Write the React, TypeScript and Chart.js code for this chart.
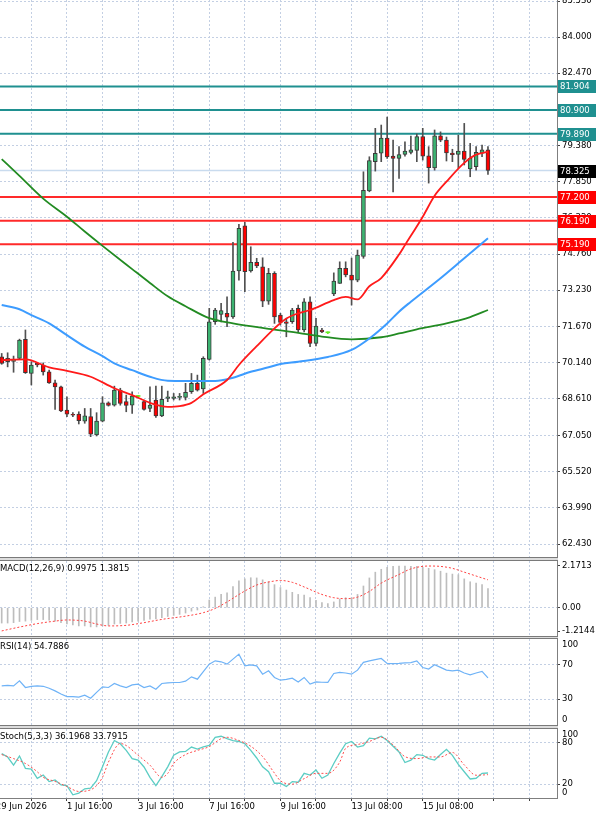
import React, { useEffect, useRef } from 'react';
import { Chart, registerables } from 'chart.js';

Chart.register(...registerables);

// ---------- price candles (index 0..82, H4 bars) ----------
const openPrices = [
  70.40, 70.19, 70.20, 70.33, 71.14, 69.69, 70.12, 70.05, 69.76, 69.29,
  69.12, 68.13, 67.95, 67.96, 67.66, 67.85, 67.07, 67.66, 68.44, 68.34,
  68.98, 68.49, 68.34, 68.71, 68.49, 68.20, 68.56, 67.88, 68.63, 68.63,
  68.67, 68.67, 68.91, 69.27, 69.03, 70.29, 71.89, 72.20, 72.25, 72.10,
  74.05, 75.97, 74.05, 74.42, 74.23, 72.77, 73.95, 72.17, 71.89, 71.89,
  72.46, 71.54, 72.74, 70.97, 71.54, 71.42, 73.07, 73.52, 74.16, 73.88,
  73.66, 74.67, 77.46, 78.70, 79.06, 79.71, 78.94, 78.84, 79.01, 79.09,
  79.18, 79.77, 78.95, 78.43, 79.80, 79.62, 79.07, 79.01, 79.15, 78.39,
  78.49, 79.06, 79.20,
];
const highPrices = [
  70.54, 70.57, 70.43, 71.15, 71.54, 70.19, 70.16, 70.14, 69.83, 69.41,
  69.15, 68.70, 68.02, 68.06, 68.20, 68.20, 68.02, 68.70, 68.48, 69.15,
  69.06, 68.77, 68.91, 68.76, 68.56, 69.12, 69.15, 69.15, 68.94, 68.84,
  68.84, 69.27, 69.69, 69.62, 70.40, 72.46, 72.46, 72.67, 72.95, 75.27,
  76.03, 76.12, 75.08, 74.59, 74.61, 74.16, 74.02, 72.25, 72.03, 72.46,
  72.60, 72.88, 72.95, 72.03, 71.61, 71.46, 73.97, 74.44, 74.44, 74.60,
  74.94, 78.27, 78.91, 80.12, 80.26, 80.60, 79.62, 79.34, 79.54, 79.79,
  79.88, 80.12, 79.34, 80.05, 79.97, 79.75, 79.23, 79.83, 80.33, 79.48,
  79.34, 79.41, 79.34,
];
const lowPrices = [
  70.08, 69.97, 69.74, 70.28, 69.69, 69.20, 69.97, 69.62, 69.27, 68.16,
  68.06, 67.85, 67.85, 67.54, 67.57, 67.00, 67.03, 67.63, 68.30, 68.30,
  68.34, 68.06, 67.99, 68.66, 68.13, 68.06, 67.82, 67.85, 68.49, 68.56,
  68.56, 68.56, 68.84, 68.94, 68.84, 70.26, 71.78, 71.88, 71.68, 72.03,
  73.66, 73.17, 74.00, 74.19, 72.53, 72.63, 71.82, 71.75, 71.25, 71.82,
  71.46, 71.46, 70.83, 70.86, 71.42, 71.38, 73.00, 73.52, 73.80, 72.60,
  73.59, 74.59, 77.42, 78.30, 78.70, 78.84, 77.41, 77.99, 78.94, 79.03,
  78.70, 78.77, 77.79, 78.34, 79.55, 78.73, 78.70, 78.42, 78.56, 78.06,
  78.34, 78.91, 78.16,
];
const closePrices = [
  70.12, 70.33, 70.29, 71.11, 69.72, 70.05, 70.05, 69.76, 69.29, 69.12,
  68.10, 67.96, 67.91, 67.68, 67.89, 67.11, 67.66, 68.44, 68.33, 68.98,
  68.42, 68.33, 68.73, 68.71, 68.16, 68.34, 67.88, 68.59, 68.70, 68.70,
  68.70, 68.89, 69.27, 68.98, 70.33, 71.89, 72.39, 72.36, 72.08, 74.05,
  75.86, 74.02, 74.42, 74.26, 72.77, 73.95, 72.10, 71.86, 71.82, 72.39,
  71.54, 72.74, 70.97, 71.71, 71.46, 71.42, 73.62, 74.16, 73.88, 73.66,
  74.73, 77.48, 78.75, 79.06, 79.71, 78.90, 78.84, 79.00, 79.15, 79.20,
  79.77, 78.94, 78.45, 79.80, 79.62, 79.07, 79.00, 79.15, 78.80, 78.84,
  79.10, 79.20, 78.325,
];

// moving averages: [bar index, price]
const maFast: [number, number][] = [
  [0, 70.26], [4, 70.29], [8, 69.95], [11, 69.80], [15, 69.55], [19, 69.06], [22, 68.77],
  [25, 68.44], [28, 68.27], [30, 68.30], [32, 68.44], [34, 68.80], [38, 69.41], [40, 70.05],
  [43, 70.85], [46, 71.61], [48, 72.03], [50, 72.25], [52, 72.39], [56, 72.81], [58, 72.95],
  [60, 72.84], [62, 73.40], [64, 73.75], [67, 74.75], [68, 75.15], [71, 76.36], [73, 77.25],
  [75, 77.85], [78, 78.65], [80, 79.00], [82, 79.12],
];
const maMid: [number, number][] = [
  [0, 72.60], [3, 72.42], [5, 72.17], [8, 71.82], [11, 71.32], [14, 70.83], [17, 70.43],
  [19, 70.12], [22, 69.83], [25, 69.55], [28, 69.38], [31, 69.37], [34, 69.37], [36, 69.37],
  [39, 69.51], [42, 69.76], [45, 69.95], [47, 70.09], [50, 70.19], [55, 70.39], [59, 70.69],
  [62, 71.18], [65, 71.82], [67, 72.32], [69, 72.74], [74, 73.74], [78, 74.59], [82, 75.44],
];
const maSlow: [number, number][] = [
  [0, 78.81], [3, 78.10], [7, 77.13], [11, 76.36], [14, 75.73], [17, 75.12], [22, 74.13],
  [25, 73.54], [28, 72.97], [31, 72.55], [35, 72.04], [39, 71.82], [45, 71.59], [50, 71.42],
  [54, 71.26], [59, 71.14], [64, 71.23], [67, 71.39], [70, 71.57], [75, 71.82], [79, 72.09],
  [82, 72.39],
];

const resistanceLevels = [81.904, 80.9, 79.89];
const supportLevels = [77.2, 76.19, 75.19];
const lastPrice = 78.325;

const priceTicks = [
  85.53, 84.0, 82.47, 80.94, 79.38, 77.85, 76.32, 74.76, 73.23, 71.67, 70.14, 68.61, 67.05,
  65.52, 63.99, 62.43,
];

// ---------- MACD ----------
const macdTitle = 'MACD(12,26,9) 0.9975 1.3815';
const macdHist = [
  -0.80, -0.80, -0.78, -0.72, -0.70, -0.66, -0.62, -0.62, -0.65, -0.70,
  -0.78, -0.85, -0.90, -0.95, -0.95, -1.00, -1.00, -0.95, -0.92, -0.85,
  -0.82, -0.80, -0.74, -0.70, -0.66, -0.60, -0.58, -0.52, -0.46, -0.40,
  -0.35, -0.28, -0.18, -0.12, 0.05, 0.40, 0.55, 0.70, 0.78, 1.10,
  1.40, 1.50, 1.56, 1.55, 1.45, 1.35, 1.20, 1.05, 0.92, 0.80,
  0.69, 0.66, 0.52, 0.38, 0.26, 0.21, 0.30, 0.45, 0.52, 0.52,
  0.69, 1.13, 1.55, 1.85, 2.00, 2.10, 2.15, 2.17, 2.17, 2.16,
  2.15, 2.10, 2.05, 1.98, 1.90, 1.80, 1.75, 1.72, 1.50, 1.35,
  1.28, 1.20, 1.00,
];
const macdSignal: [number, number][] = [
  [0, -1.21], [3, -1.01], [6, -0.83], [9, -0.70], [11, -0.64], [14, -0.70], [16, -0.85],
  [18, -0.95], [21, -0.92], [24, -0.78], [27, -0.61], [31, -0.44], [34, -0.26], [36, -0.04],
  [38, 0.30], [41, 0.87], [43, 1.18], [46, 1.39], [47, 1.42], [49, 1.32], [51, 1.08],
  [54, 0.69], [56, 0.52], [58, 0.47], [60, 0.55], [62, 0.85], [64, 1.28], [67, 1.73],
  [69, 2.02], [72, 2.17], [74, 2.15], [76, 2.05], [78, 1.85], [82, 1.45],
];
const macdTicks = [2.1713, 0, -1.2144];

// ---------- RSI ----------
const rsiTitle = 'RSI(14) 54.7886';
const rsiValues = [
  45.5, 46, 45.5, 51.3, 43.6, 45, 45.5, 45, 42.8, 39.7,
  36, 33.1, 33, 32.5, 34.6, 31.1, 38, 44.3, 43.6, 48.3,
  45.5, 43.6, 46.6, 47.5, 43.6, 45.5, 41.6, 48.3, 49, 49.4,
  49.4, 51, 56, 53.3, 62, 70.8, 74.6, 73.5, 70.8, 76.6,
  82.4, 68.8, 70, 68.8, 59.1, 63, 55.3, 52.1, 53, 54.5,
  50.1, 55.3, 47.5, 50.1, 49.7, 49.5, 59.9, 61.1, 60.5, 59.1,
  63.8, 72.8, 74.6, 76, 77.4, 71.6, 71.4, 71.6, 72.2, 72.5,
  74.6, 66.9, 65, 70, 67, 63.8, 63, 63.8, 60.5, 58.3,
  60.5, 62.3, 54.8,
];
const rsiLevels = [70, 30];
const rsiEdgeLabels: [string, string] = ['100', '0'];

// ---------- Stochastic ----------
const stochTitle = 'Stoch(5,3,3) 36.1968 33.7915';
const stochMain = [
  64.3, 59.4, 47.6, 60.9, 42.9, 41.9, 28.6, 33.3, 23.8, 26.2,
  19, 18, 4.7, 7.1, 13.3, 14.3, 25, 45.2, 66.7, 83.3,
  78.6, 69, 57.1, 54.8, 45, 30, 18, 30.9, 45.2, 61.9,
  66.7, 67.5, 73.8, 71, 74, 76.2, 88, 89.5, 86, 83,
  81.9, 78.6, 69, 58, 45.2, 38, 21.4, 21.4, 16.7, 23.8,
  22.9, 35.7, 33.3, 40.5, 28.6, 33.3, 50, 65, 78.6, 81.9,
  73.8, 76, 86.7, 85.7, 89.5, 83.3, 75, 66.7, 51.4, 54.8,
  62.9, 61.9, 57.1, 55, 63, 70.5, 61.9, 48.6, 38, 27.6,
  28.6, 35.7, 36.2,
];
const stochSignal: [number, number][] = [
  [0, 62.9], [2, 57.1], [4, 50], [6, 38], [7, 30], [9, 24], [11, 16.7], [13, 9.5], [15, 11.9],
  [17, 30], [18, 52], [20, 79], [21, 76], [23, 61.9], [25, 47.6], [27, 30], [28, 35.7],
  [29, 50], [31, 62.9], [33, 69], [35, 74.5], [37, 86], [38, 88], [40, 83.3], [42, 75],
  [44, 60], [46, 36], [47, 25], [49, 20], [51, 28], [53, 35.7], [55, 35.7], [57, 52],
  [58, 72], [60, 77.5], [62, 82], [64, 88], [66, 77], [68, 60], [70, 57.1], [72, 59.5],
  [74, 59.5], [76, 66], [78, 48], [80, 33], [82, 33.8],
];
const stochLevels = [80, 20];
const stochEdgeLabels: [string, string] = ['100', '0'];

// ---------- time axis ----------
const timeTickIdx = [-1, 11, 23, 35, 47, 59, 71];
const timeTickLabels = ['29 Jun 2026', '1 Jul 16:00', '3 Jul 16:00', '7 Jul 16:00', '9 Jul 16:00', '13 Jul 08:00', '15 Jul 08:00'];

// ---------- layout / style ----------
const W = 600;
const H = 817;
const PLOT_RIGHT = 557;
const AXIS_W = W - PLOT_RIGHT;
const X_MIN = -0.287;
const X_MAX = 93.64;
const MAIN_MIN = 61.88;
const MAIN_MAX = 85.58;
const MACD_MIN = -1.4748;
const MACD_MAX = 2.4317;
const FONT_FAMILY = '"DejaVu Sans", sans-serif';
const FONT_SIZE = 8.5;
const FONT = `${FONT_SIZE}px ${FONT_FAMILY}`;
const GRID = '#c3cfe3';
const AXIS_LINE = '#7f7f7f';
const BULL = '#3cb371';
const BEAR = '#ff0000';
const DOJI = '#66ee22';
const WICK = '#505050';
const TEAL = '#1f9090';
const RED_LINE = '#ff2a2a';

const gridIdx: number[] = [];
for (let v = timeTickIdx[0]; v <= X_MAX; v += 6) gridIdx.push(v);

function xAxis(withLabels: boolean): any {
  return {
    type: 'linear',
    min: X_MIN,
    max: X_MAX,
    offset: false,
    afterBuildTicks: (s: any) => {
      s.ticks = gridIdx.map((v) => ({ value: v }));
    },
    afterFit: (s: any) => {
      s.height = withLabels ? 19 : 0;
      s.paddingLeft = 0;
      s.paddingRight = 0;
    },
    grid: { color: GRID, lineWidth: 1, offset: false, drawTicks: withLabels, tickLength: 3, tickColor: '#404040' },
    border: { display: withLabels, color: AXIS_LINE, dash: [2, 2] },
    ticks: {
      display: withLabels,
      autoSkip: false,
      maxRotation: 0,
      minRotation: 0,
      align: 'start',
      padding: 1,
      color: '#000',
      font: { family: FONT_FAMILY, size: FONT_SIZE },
      callback: (v: number) => {
        const k = timeTickIdx.indexOf(v);
        return k >= 0 ? timeTickLabels[k] : '';
      },
    },
  };
}

function yAxis(min: number, max: number, ticks: number[], fmt: (v: number) => string, gridOn?: (v: number) => boolean): any {
  return {
    position: 'right',
    min,
    max,
    afterBuildTicks: (s: any) => {
      s.ticks = ticks.map((v) => ({ value: v }));
    },
    afterFit: (s: any) => {
      s.width = AXIS_W;
      s.paddingTop = 0;
      s.paddingBottom = 0;
    },
    grid: {
      color: (c: any) => (gridOn && c.tick && !gridOn(c.tick.value) ? 'rgba(0,0,0,0)' : GRID),
      drawTicks: true,
      tickLength: 3,
      tickColor: '#404040',
    },
    border: { display: true, color: AXIS_LINE, dash: [2, 2] },
    ticks: {
      autoSkip: false,
      padding: 2,
      color: '#000',
      font: { family: FONT_FAMILY, size: FONT_SIZE },
      callback: (v: number) => fmt(v),
    },
  };
}

function baseOptions(scales: any): any {
  return {
    responsive: false,
    animation: false,
    events: [],
    layout: { padding: 0 },
    plugins: { legend: { display: false }, tooltip: { enabled: false } },
    scales,
  };
}

function panelText(title: string, edge?: [string, string]): any {
  return {
    id: 'panelText',
    afterDraw(chart: any) {
      const { ctx, chartArea } = chart;
      ctx.save();
      ctx.font = FONT;
      ctx.fillStyle = '#000';
      ctx.textBaseline = 'middle';
      ctx.textAlign = 'left';
      ctx.fillText(title, 0, chartArea.top + 8);
      if (edge) {
        const x = chartArea.right + 5;
        ctx.fillText(edge[0], x, chartArea.top + 6);
        ctx.fillText(edge[1], x, chartArea.bottom - 5);
      }
      ctx.restore();
    },
  };
}

const tagPlugin: any = {
  id: 'priceTags',
  afterDraw(chart: any) {
    const { ctx, chartArea } = chart;
    const ys = chart.scales.y;
    const draw = (v: number, bg: string) => {
      const py = Math.round(ys.getPixelForValue(v));
      ctx.fillStyle = bg;
      ctx.fillRect(chartArea.right + 1, py - 6, 38, 13);
      ctx.fillStyle = '#fff';
      ctx.fillText(v.toFixed(3), chartArea.right + 3, py + 0.5);
    };
    ctx.save();
    ctx.font = FONT;
    ctx.textBaseline = 'middle';
    ctx.textAlign = 'left';
    resistanceLevels.forEach((v) => draw(v, TEAL));
    supportLevels.forEach((v) => draw(v, BEAR));
    draw(lastPrice, '#000');
    ctx.restore();
  },
};

function pairs(p: [number, number][]) {
  return p.map(([x, y]) => ({ x, y }));
}
function series(a: number[]) {
  return a.map((y, x) => ({ x, y }));
}
function hline(v: number, color: string, width: number, order: number): any {
  return {
    type: 'line',
    order,
    data: [{ x: X_MIN, y: v }, { x: X_MAX, y: v }],
    borderColor: color,
    borderWidth: width,
    pointRadius: 0,
    fill: false,
  };
}

const isDoji = (i: number) => closePrices[i] === openPrices[i];

export default function App() {
  const mainRef = useRef<HTMLCanvasElement>(null);
  const macdRef = useRef<HTMLCanvasElement>(null);
  const rsiRef = useRef<HTMLCanvasElement>(null);
  const stochRef = useRef<HTMLCanvasElement>(null);

  useEffect(() => {
    document.body.style.margin = '0';
    Chart.defaults.font.family = FONT_FAMILY;
    Chart.defaults.font.size = FONT_SIZE;
    const charts: Chart[] = [];

    charts.push(
      new Chart(mainRef.current as HTMLCanvasElement, {
        type: 'bar',
        data: {
          datasets: [
            ...resistanceLevels.map((v) => hline(v, TEAL, 2, 20)),
            ...supportLevels.map((v) => hline(v, RED_LINE, 2, 20)),
            hline(lastPrice, '#c9dbee', 1.5, 19),
            {
              type: 'bar',
              order: 10,
              grouped: false,
              barThickness: 1,
              data: lowPrices.map((l, i) => ({ x: i, y: [l, highPrices[i]] })),
              backgroundColor: openPrices.map((_, i) => (isDoji(i) ? DOJI : WICK)),
              borderWidth: 0,
            },
            {
              type: 'bar',
              order: 9,
              grouped: false,
              barThickness: 4,
              minBarLength: 1,
              borderSkipped: false,
              data: openPrices.map((o, i) => ({ x: i, y: [o, closePrices[i]] })),
              backgroundColor: openPrices.map((o, i) => (isDoji(i) ? DOJI : closePrices[i] > o ? BULL : BEAR)),
              borderColor: openPrices.map((_, i) => (isDoji(i) ? DOJI : '#3a3a3a')),
              borderWidth: openPrices.map((_, i) => (isDoji(i) ? 0 : 1)),
            },
            { type: 'line', order: 3, data: pairs(maSlow), borderColor: '#228b22', borderWidth: 1.8, pointRadius: 0, cubicInterpolationMode: 'monotone', fill: false },
            { type: 'line', order: 2, data: pairs(maMid), borderColor: '#3d9cff', borderWidth: 2, pointRadius: 0, cubicInterpolationMode: 'monotone', fill: false },
            { type: 'line', order: 1, data: pairs(maFast), borderColor: '#ff1a1a', borderWidth: 1.8, pointRadius: 0, cubicInterpolationMode: 'monotone', fill: false },
          ] as any,
        },
        options: baseOptions({
          x: xAxis(false),
          y: yAxis(MAIN_MIN, MAIN_MAX, priceTicks, (v) => v.toFixed(3)),
        }),
        plugins: [tagPlugin],
      } as any)
    );

    charts.push(
      new Chart(macdRef.current as HTMLCanvasElement, {
        type: 'bar',
        data: {
          datasets: [
            { type: 'bar', order: 2, grouped: false, barThickness: 1, data: series(macdHist), backgroundColor: '#bdbdbd', borderWidth: 0 },
            { type: 'line', order: 1, data: pairs(macdSignal), borderColor: '#ff4040', borderWidth: 1, borderDash: [2, 2], pointRadius: 0, cubicInterpolationMode: 'monotone', fill: false },
          ] as any,
        },
        options: baseOptions({
          x: xAxis(false),
          y: yAxis(MACD_MIN, MACD_MAX, macdTicks, (v) => (v === 0 ? '0.00' : v.toFixed(4)), (v) => v === 0),
        }),
        plugins: [panelText(macdTitle)],
      } as any)
    );

    charts.push(
      new Chart(rsiRef.current as HTMLCanvasElement, {
        type: 'line',
        data: {
          datasets: [
            { data: series(rsiValues), borderColor: '#6fb3f7', borderWidth: 1.2, pointRadius: 0, tension: 0, fill: false },
          ] as any,
        },
        options: baseOptions({
          x: xAxis(false),
          y: yAxis(0, 100, rsiLevels, (v) => String(v)),
        }),
        plugins: [panelText(rsiTitle, rsiEdgeLabels)],
      } as any)
    );

    charts.push(
      new Chart(stochRef.current as HTMLCanvasElement, {
        type: 'line',
        data: {
          datasets: [
            { order: 1, data: pairs(stochSignal), borderColor: '#ff4d4d', borderWidth: 1, borderDash: [2, 2], pointRadius: 0, cubicInterpolationMode: 'monotone', fill: false },
            { order: 2, data: series(stochMain), borderColor: '#5ccdc4', borderWidth: 1.3, pointRadius: 0, tension: 0, fill: false },
          ] as any,
        },
        options: baseOptions({
          x: xAxis(true),
          y: yAxis(0, 100, stochLevels, (v) => String(v)),
        }),
        plugins: [panelText(stochTitle, stochEdgeLabels)],
      } as any)
    );

    return () => charts.forEach((c) => c.destroy());
  }, []);

  const cv = (top: number, height: number): React.CSSProperties => ({
    position: 'absolute',
    left: 0,
    top,
    width: W,
    height,
    display: 'block',
  });
  const sep = (top: number, height: number): React.CSSProperties => ({
    position: 'absolute',
    left: 0,
    top,
    width: PLOT_RIGHT + 1,
    height,
    boxSizing: 'border-box',
    borderTop: '1px solid #7a7a7a',
    borderBottom: '1px solid #7a7a7a',
    background: '#dcdcdc',
  });

  return (
    <div style={{ position: 'relative', width: W, height: H, background: '#fff', overflow: 'hidden' }}>
      <canvas ref={mainRef} width={W} height={557} style={cv(0, 557)} />
      <div style={sep(557, 4)} />
      <canvas ref={macdRef} width={W} height={75} style={cv(561, 75)} />
      <div style={sep(636, 3)} />
      <canvas ref={rsiRef} width={W} height={86} style={cv(639, 86)} />
      <div style={sep(725, 4)} />
      <canvas ref={stochRef} width={W} height={88} style={cv(729, 88)} />
    </div>
  );
}
